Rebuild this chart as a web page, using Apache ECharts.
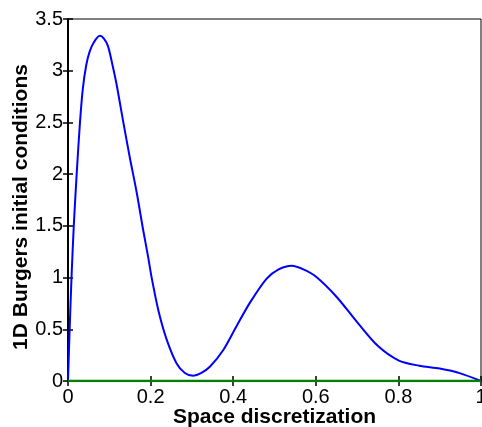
<!DOCTYPE html>
<html>
<head>
<meta charset="utf-8">
<script src="https://cdn.jsdelivr.net/npm/echarts@6/dist/echarts.min.js"></script>
<style>
html,body{margin:0;padding:0;background:#fff;}
#chart{width:482px;height:427px;}
</style>
</head>
<body>
<div id="chart"></div>
<script>
// Space discretization points and initial condition values
var xValues = [0, 0.004, 0.0085, 0.014, 0.021, 0.029, 0.036, 0.044, 0.052, 0.062, 0.077, 0.087, 0.097, 0.108, 0.118, 0.134, 0.150, 0.166, 0.182, 0.194, 0.203, 0.219, 0.239, 0.263, 0.283, 0.303, 0.322, 0.344, 0.376, 0.408, 0.441, 0.481, 0.51, 0.542, 0.57, 0.6, 0.65, 0.7, 0.75, 0.8, 0.85, 0.9, 0.95, 1.0];
var uValues = [0, 0.5, 1.0, 1.5, 2.0, 2.5, 2.83, 3.05, 3.18, 3.27, 3.337, 3.31, 3.235, 3.05, 2.86, 2.5, 2.154, 1.83, 1.46, 1.2, 0.99, 0.68, 0.40, 0.17, 0.078, 0.05, 0.075, 0.14, 0.30, 0.53, 0.76, 0.99, 1.08, 1.115, 1.08, 1.01, 0.815, 0.57, 0.34, 0.2, 0.148, 0.12, 0.074, 0];
var zeroX = [0, 1];
var zeroY = [0, 0];
var xTicks = [0, 0.2, 0.4, 0.6, 0.8, 1];
var yTicks = [0, 0.5, 1, 1.5, 2, 2.5, 3, 3.5];

var curve = xValues.map(function(x, i){ return [x, uValues[i]]; });
var zeroLine = zeroX.map(function(x, i){ return [x, zeroY[i]]; });

var font = 'Liberation Sans, Arial, sans-serif';
var chart = echarts.init(document.getElementById('chart'), null, {renderer: 'canvas'});
chart.setOption({
  animation: false,
  backgroundColor: '#fff',
  grid: {left: 68, right: 1, top: 19, bottom: 46, show: true, borderColor: '#000', borderWidth: 1,
         containLabel: false, outerBoundsMode: 'none'},
  xAxis: [{
    type: 'value', min: 0, max: 1, interval: 0.2,
    name: 'Space discretization', nameLocation: 'middle', nameGap: 26, nameMoveOverlap: false,
    nameTextStyle: {fontFamily: font, fontWeight: 'bold', fontSize: 21, color: '#000'},
    axisLine: {show: true, onZero: false, lineStyle: {color: '#000', width: 2}},
    axisTick: {show: true, inside: true, length: 5, lineStyle: {color: '#000', width: 1.5}},
    axisLabel: {fontFamily: font, fontSize: 20, color: '#000', margin: 6},
    splitLine: {show: false}
  }, {
    type: 'value', min: 0, max: 1, interval: 0.2, position: 'top',
    axisLine: {show: true, lineStyle: {color: '#000', width: 1}},
    axisTick: {show: true, inside: true, length: 5, lineStyle: {color: '#000', width: 1.5}},
    axisLabel: {show: false}, splitLine: {show: false}
  }],
  yAxis: [{
    type: 'value', min: 0, max: 3.5, interval: 0.5,
    name: '1D Burgers initial conditions', nameLocation: 'middle', nameGap: 36, nameMoveOverlap: false,
    nameTextStyle: {fontFamily: font, fontWeight: 'bold', fontSize: 21, color: '#000', padding: [0, 14, 0, 0]},
    axisLine: {show: true, onZero: false, lineStyle: {color: '#000', width: 2}},
    axisTick: {show: true, inside: true, length: 5, lineStyle: {color: '#000', width: 1.5}},
    axisLabel: {fontFamily: font, fontSize: 20, color: '#000', margin: 5},
    splitLine: {show: false}
  }, {
    type: 'value', min: 0, max: 3.5, interval: 0.5, position: 'right',
    axisLine: {show: true, lineStyle: {color: '#000', width: 1}},
    axisTick: {show: true, inside: true, length: 5, lineStyle: {color: '#000', width: 1.5}},
    axisLabel: {show: false}, splitLine: {show: false}
  }],
  series: [{
    type: 'line', data: curve, showSymbol: false, smooth: 0.3,
    lineStyle: {color: '#0000ff', width: 2}, z: 3
  }, {
    type: 'line', data: zeroLine, showSymbol: false,
    lineStyle: {color: '#007f00', width: 2.5}, z: 4
  }]
});
</script>
</body>
</html>
